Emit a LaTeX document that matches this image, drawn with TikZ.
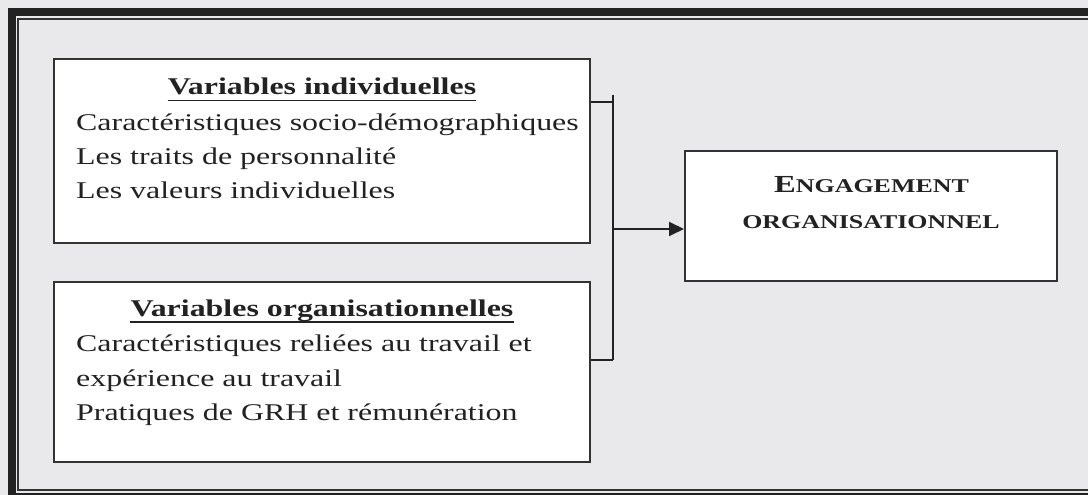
\documentclass[tikz,border=0pt]{standalone}
\usepackage{fontspec}
\setmainfont{Liberation Serif}[FakeStretch=1.33]
\usetikzlibrary{arrows.meta}
\definecolor{bg}{HTML}{E9E9EB}
\definecolor{ink}{HTML}{222222}
\definecolor{boxline}{HTML}{333333}
\tikzset{
  box/.style={draw=boxline, line width=2pt, fill=white, inner sep=0pt},
  body/.style={inner sep=0pt, anchor=base west, text=ink, font=\fontsize{24}{26}\selectfont},
  ttl/.style={inner sep=0pt, anchor=base, text=ink, font=\fontsize{24}{26}\selectfont\bfseries},
  captext/.style={inner sep=0pt, anchor=base, text=ink},
  conn/.style={draw=ink, line width=2pt},
  uline/.style={draw=ink, line width=1.6pt}
}
\begin{document}
\begin{tikzpicture}[x=1pt,y=-1pt]
\useasboundingbox (0,0) rectangle (1088,495);
\fill[bg] (0,0) rectangle (1088,495);
\begin{scope}
\clip (0,0) rectangle (1088,495);
\draw[ink, line width=7.5pt] (11.8,11.8) rectangle (1100,497);
\draw[boxline, line width=1.8pt] (17.8,19.3) rectangle (1095,489.6);
\end{scope}
% boxes
\node[box, minimum width=536pt, minimum height=184pt] (b1) at (322,151) {};
\node[box, minimum width=536pt, minimum height=180pt] (b2) at (322,372) {};
\node[box, minimum width=372pt, minimum height=130pt] (b3) at (871,216) {};
% box 1 text
\node[ttl] (t1) at (322,95) {Variables individuelles};
\draw[uline] ([yshift=-5.5pt]t1.base west) -- ([yshift=-5.5pt]t1.base east);
\node[body] (l11) at (76,130) {Caractéristiques socio-démographiques};
\node[body] (l12) at (76,164.5) {Les traits de personnalité};
\node[body] (l13) at (76,198.5) {Les valeurs individuelles};
% box 2 text
\node[ttl] (t2) at (322,316.7) {Variables organisationnelles};
\draw[uline] ([yshift=-5.5pt]t2.base west) -- ([yshift=-5.5pt]t2.base east);
\node[body] (l21) at (76,351.7) {Caractéristiques reliées au travail et};
\node[body] (l22) at (76,386.2) {expérience au travail};
\node[body] (l23) at (76,420.5) {Pratiques de GRH et rémunération};
% box 3 text
\node[captext] (t3a) at (871.5,192) {\bfseries{\fontsize{24.5}{28}\selectfont E}{\fontsize{19.5}{22}\selectfont NGAGEMENT}};
\node[captext] (t3b) at (871,228) {\bfseries\fontsize{19.5}{22}\selectfont ORGANISATIONNEL};
% connectors
\coordinate (bt) at (613,95);
\coordinate (bb) at (613,359.5);
\coordinate (j1) at (613,102);
\coordinate (j) at (613,229);
\draw[conn] (bt) -- (bb);
\draw[conn] (b1.east |- j1) -- (j1);
\draw[conn] (b2.east |- bb) -- (bb);
\draw[conn, -{Triangle[length=15pt,width=14pt]}] (j) -- (b3.west |- j);
\end{tikzpicture}
\end{document}
